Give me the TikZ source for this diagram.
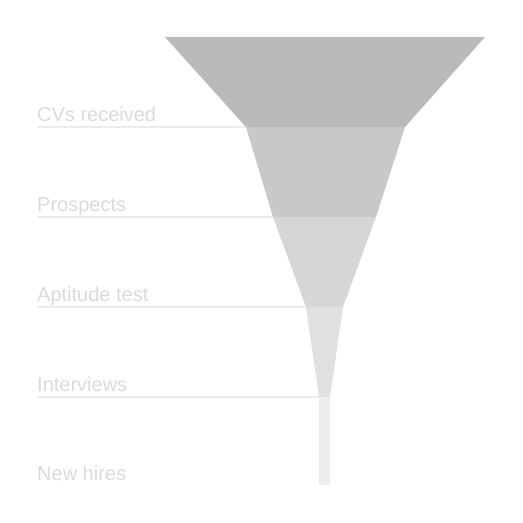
\documentclass[tikz,border=0pt]{standalone}
\usepackage{fontspec}
\setmainfont{Liberation Sans}
\definecolor{stageA}{HTML}{BABABA}
\definecolor{stageB}{HTML}{C8C8C8}
\definecolor{stageC}{HTML}{D6D6D6}
\definecolor{stageD}{HTML}{E0E0E0}
\definecolor{stageE}{HTML}{EEEEEE}
\definecolor{labelgray}{HTML}{DADADA}
\definecolor{rulegray}{HTML}{EBEBEB}
\tikzset{
  stagelabel/.style={anchor=base west,inner sep=0pt,text=labelgray,font=\fontsize{20}{24}\selectfont},
  stagerule/.style={draw=rulegray,line width=1.5pt}
}
\begin{document}
\begin{tikzpicture}[x=1pt,y=-1pt]
\useasboundingbox (0,0) rectangle (523,523);

% funnel
\fill [stageA] (165,37) -- (485,37) -- (405,127) -- (246,127) -- cycle;
\fill [stageB] (246,127) -- (405,127) -- (376,217) -- (273,217) -- cycle;
\fill [stageC] (273,217) -- (376,217) -- (343,307) -- (306,307) -- cycle;
\fill [stageD] (306,307) -- (343,307) -- (330,397) -- (319,397) -- cycle;
\fill [stageE] (319,397) rectangle (330,485);

\node [stagelabel] (cvs) at (37,121) {CVs received};
\node [stagelabel] (prospects) at (37,211) {Prospects};
\node [stagelabel] (aptitude) at (37,301) {Aptitude test};
\node [stagelabel] (interviews) at (37,391) {Interviews};
\node [stagelabel] (hires) at (37,480) {New hires};

\draw [stagerule] (37,127) -- (246,127);
\draw [stagerule] (37,217) -- (273,217);
\draw [stagerule] (37,307) -- (306,307);
\draw [stagerule] (37,397) -- (319,397);

\end{tikzpicture}
\end{document}
